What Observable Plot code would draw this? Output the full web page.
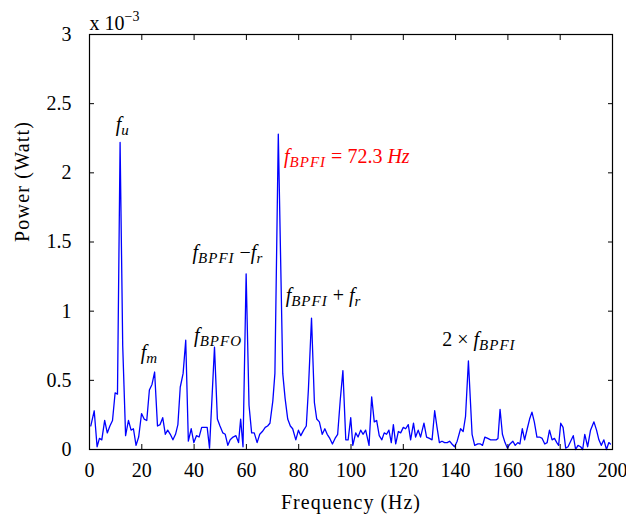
<!DOCTYPE html>
<html><head><meta charset="utf-8">
<script src="https://cdn.jsdelivr.net/npm/d3@7"></script>
<script src="https://cdn.jsdelivr.net/npm/@observablehq/plot@0.6"></script>
<style>body{margin:0;background:#fff} svg{display:block}</style>
</head><body><div id="chart"></div>
<script>
// Frequency (Hz) and power (units of 1e-3 W)
const freq = [0.5,1.8,2.9,3.8,4.7,5.8,6.8,7.8,8.8,9.8,10.7,11.7,12.7,13.8,14.9,15.9,16.8,17.8,18.8,19.9,20.9,21.9,22.9,23.9,24.9,26.0,27.0,28.0,29.0,29.9,30.9,31.9,32.9,33.8,34.7,35.8,36.8,37.8,38.9,39.9,40.9,41.9,42.9,44.0,45.0,45.9,47.8,48.9,49.9,51.0,51.9,52.9,53.8,54.9,56.0,57.0,57.8,58.7,59.9,61.0,62.0,63.0,64.1,65.1,66.1,67.2,68.1,69.0,70.1,70.9,72.2,73.9,74.8,75.8,76.8,77.7,78.9,79.9,80.8,81.9,82.9,83.7,84.9,86.0,86.9,87.9,89.0,90.0,90.9,91.9,92.9,93.9,94.9,95.9,96.9,98.0,98.9,99.9,100.7,101.8,102.7,103.7,104.6,105.6,106.9,107.9,108.9,109.8,110.8,111.8,112.7,113.6,114.5,115.4,116.2,117.1,118.1,119.0,120.0,120.9,121.9,122.8,123.9,124.7,125.7,126.6,127.9,128.9,130.0,131.0,132.0,132.9,133.8,134.8,135.8,136.8,137.7,138.6,139.6,140.6,141.9,142.9,143.8,144.9,146.3,147.3,148.5,149.5,150.3,151.2,152.3,153.4,154.5,155.6,156.2,157.0,157.9,158.9,159.8,160.8,161.9,162.8,163.8,164.6,165.5,166.4,167.4,168.3,169.2,170.1,171.1,172.1,173.1,174.1,175.0,175.9,176.9,177.8,178.7,179.4,180.2,181.1,182.1,183.0,184.0,185.0,185.9,186.8,187.8,188.6,189.4,190.5,191.6,192.9,193.9,194.8,195.7,196.7,197.7,198.6,199.2];
const power = [0.17,0.28,0.02,0.08,0.07,0.21,0.12,0.17,0.21,0.41,0.40,2.22,0.75,0.10,0.21,0.14,0.15,0.03,0.09,0.26,0.22,0.21,0.43,0.47,0.56,0.17,0.18,0.23,0.11,0.14,0.11,0.07,0.11,0.18,0.45,0.55,0.79,0.06,0.15,0.05,0.10,0.09,0.16,0.16,0.16,0.01,0.74,0.22,0.17,0.12,0.11,0.03,0.07,0.09,0.10,0.05,0.22,0.02,1.27,0.32,0.12,0.12,0.05,0.11,0.13,0.16,0.17,0.19,0.35,0.55,2.28,0.55,0.37,0.22,0.17,0.15,0.07,0.14,0.10,0.14,0.17,0.43,0.95,0.34,0.22,0.20,0.11,0.15,0.11,0.08,0.04,0.08,0.11,0.36,0.57,0.07,0.07,0.23,0.03,0.12,0.09,0.14,0.11,0.14,0.03,0.38,0.20,0.21,0.10,0.07,0.12,0.11,0.14,0.05,0.18,0.04,0.13,0.12,0.16,0.15,0.18,0.07,0.19,0.09,0.14,0.09,0.19,0.09,0.08,0.07,0.28,0.16,0.05,0.06,0.05,0.05,0.06,0.04,0.02,0.06,0.15,0.13,0.24,0.64,0.11,0.03,0.04,0.04,0.03,0.09,0.08,0.07,0.07,0.07,0.08,0.29,0.11,0.05,0.01,0.04,0.06,0.03,0.05,0.04,0.15,0.07,0.15,0.22,0.27,0.20,0.09,0.09,0.08,0.04,0.05,0.14,0.07,0.08,0.05,0.03,0.19,0.16,0.01,0.02,0.06,0.10,0.00,0.03,0.02,0.00,0.11,0.02,0.14,0.20,0.14,0.07,0.03,0.07,0.00,0.05,0.04];

const xTicks = [0,20,40,60,80,100,120,140,160,180,200];
const yTicks = [0,0.5,1,1.5,2,2.5,3];
const yTickLabels = ["0","0.5","1","1.5","2","2.5","3"];
const xLabel = "Frequency (Hz)";
const yLabel = "Power (Watt)";
const scaleText = "x 10−3";

// annotations: plain text, anchor (Hz, 1e-3 W), colour
const annoText  = ["fu","fm","fBPFO","fBPFI −fr","fBPFI + fr","2 × fBPFI","fBPFI = 72.3 Hz"];
const annoX     = [10.05,19.6,40.0,39.4,75.0,134.9,74.4];
const annoY     = [2.30,0.653,0.774,1.376,1.063,0.745,2.069];
const annoColor = ["black","black","black","black","black","black","#ff0000"];
// rich-text pieces: i = italic, sub = italic subscript, n = normal, sup = superscript
const annoParts = [
  [["f","i"],["u","sub"]],
  [["f","i"],["m","sub"]],
  [["f","i"],["BPFO","sub"]],
  [["f","i"],["BPFI","sub"],[" −","n"],["f","i"],["r","sub"]],
  [["f","i"],["BPFI","sub"],[" + ","n"],["f","i"],["r","sub"]],
  [["2 × ","n"],["f","i"],["BPFI","sub"]],
  [["f","i"],["BPFI","sub"],[" = 72.3 ","n"],["Hz","i"]]
];
const scaleParts = [["x 10","n"],["−3","sup"]];

const rows = freq.map((f, i) => ({f, p: power[i]}));
const annos = annoText.map((t, i) => ({t, x: annoX[i], y: annoY[i], c: annoColor[i]}));

const W = 626, H = 516;
const plot = Plot.plot({
  width: W, height: H,
  marginLeft: 89, marginRight: 14, marginTop: 34, marginBottom: 67,
  style: {fontFamily: "'Liberation Serif', 'Times New Roman', serif", fontSize: "20px", background: "white", color: "black"},
  x: {domain: [0, 200], label: null},
  y: {domain: [0, 3], label: null},
  marks: [
    Plot.line(rows, {x: "f", y: "p", stroke: "#0000ff", strokeWidth: 1.3}),
    Plot.frame({stroke: "black", strokeWidth: 1.2}),
    Plot.axisX(xTicks, {anchor: "bottom", tickSize: -5, tickPadding: 18, label: null, fontSize: 20, tickFormat: d => String(d)}),
    Plot.axisX(xTicks, {anchor: "top", tickSize: -5, label: null, fill: "none", tickFormat: () => ""}),
    Plot.axisY(yTicks, {anchor: "left", tickSize: -5, tickPadding: 23, label: null, fontSize: 20, tickFormat: d => yTickLabels[yTicks.indexOf(d)]}),
    Plot.axisY(yTicks, {anchor: "right", tickSize: -5, label: null, fill: "none", tickFormat: () => ""}),
    Plot.text(annos, {x: "x", y: "y", text: "t", fill: "c", textAnchor: "start", lineAnchor: "bottom", fontSize: 20}),
    Plot.text([xLabel], {frameAnchor: "bottom", text: d => d, lineAnchor: "bottom", dy: 59, fontSize: 20}),
    Plot.text([yLabel], {frameAnchor: "left", text: d => d, rotate: -90, lineAnchor: "bottom", dx: -60.5, fontSize: 20}),
    Plot.text([scaleText], {frameAnchor: "top-left", text: d => d, textAnchor: "start", lineAnchor: "bottom", dy: -5, fontSize: 20})
  ]
});

const rich = {};
annoText.forEach((t, i) => rich[t] = annoParts[i]);
rich[scaleText] = scaleParts;
const shiftOf = {i: 0, n: 0, sub: 4, sup: -9};
d3.select(plot).selectAll("text").each(function() {
  const content = this.textContent;
  if (content === xLabel) d3.select(this).attr("letter-spacing", 1);
  if (content === yLabel) d3.select(this).attr("letter-spacing", 1.2);
  const parts = rich[content];
  if (!parts) return;
  const el = d3.select(this);
  el.text(null);
  let cur = 0;
  parts.forEach(([txt, kind]) => {
    const ts = el.append("tspan").text(txt);
    const target = shiftOf[kind];
    if (target !== cur) ts.attr("dy", target - cur);
    cur = target;
    if (kind === "i" || kind === "sub") ts.attr("font-style", "italic");
    if (kind === "sub") ts.attr("font-size", 15).attr("letter-spacing", 1);
    if (kind === "sup") ts.attr("font-size", 14);
  });
});

document.getElementById("chart").appendChild(plot);
</script>
</body></html>
